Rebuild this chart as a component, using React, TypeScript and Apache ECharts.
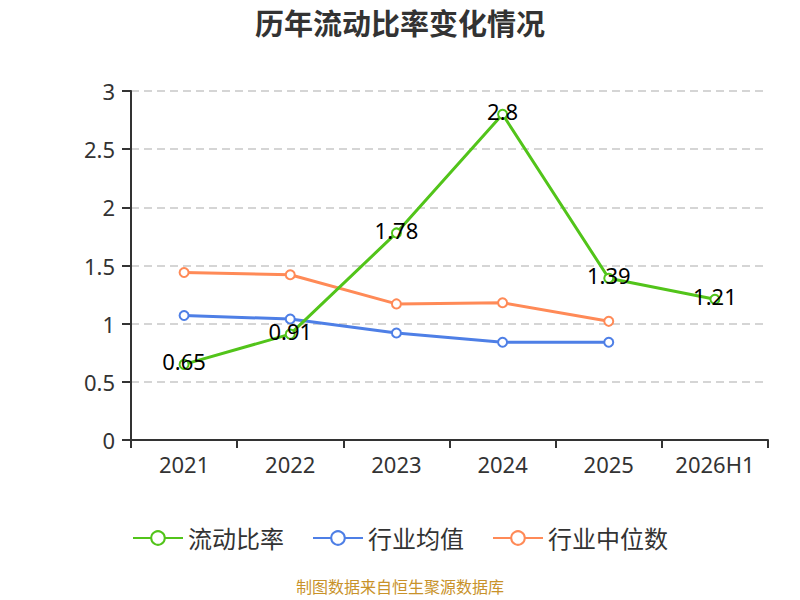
import React, { useEffect, useRef } from "react";
import * as echarts from "echarts";

const categories = ["2021", "2022", "2023", "2024", "2025", "2026H1"];
const currentRatio = [0.65, 0.91, 1.78, 2.8, 1.39, 1.21];
const industryAvg = [1.07, 1.04, 0.92, 0.84, 0.84, null];
const industryMedian = [1.44, 1.42, 1.17, 1.18, 1.02, null];
const seriesNames = ["流动比率", "行业均值", "行业中位数"];
const colors = ["#52c41a", "#4e7fe6", "#ff8a57"];
const sourceText = "制图数据来自恒生聚源数据库";

export default function App() {
  const ref = useRef<HTMLDivElement>(null);
  useEffect(() => {
    const chart = echarts.init(ref.current!, null, { renderer: "svg" });
    const font = "'Noto Sans', 'Noto Sans CJK SC', sans-serif";
    const mk = (name: string, data: any[], color: string, label: boolean) => ({
      name,
      type: "line",
      data,
      color,
      symbol: "emptyCircle",
      symbolSize: 9,
      lineStyle: { width: 3, color },
      itemStyle: { color, borderWidth: 1.5 },
      label: label
        ? { show: true, position: "inside", offset: [0, -3], color: "#000", fontSize: 22, fontFamily: font }
        : { show: false },
      z: label ? 3 : 2,
    });
    chart.setOption({
      animation: false,
      textStyle: { fontFamily: font },
      title: [
        {
          text: "历年流动比率变化情况",
          left: "center",
          top: 4,
          textStyle: { fontSize: 29, fontWeight: "bold", color: "#333", fontFamily: font },
        },
        {
          text: sourceText,
          left: "center",
          bottom: 0,
          textStyle: { fontSize: 16, fontWeight: "normal", color: "#c8922a", fontFamily: font },
        },
      ],
      legend: {
        top: 521,
        left: "center",
        itemWidth: 50,
        itemHeight: 17,
        itemGap: 28,
        textStyle: { fontSize: 24, color: "#333", fontFamily: font },
        data: seriesNames,
      },
      grid: { left: 131, right: 32, top: 91, bottom: 160 },
      xAxis: {
        type: "category",
        data: categories,
        boundaryGap: true,
        axisLine: { lineStyle: { color: "#333", width: 2 } },
        axisTick: { show: true, length: 8, lineStyle: { color: "#333", width: 2 } },
        axisLabel: { fontSize: 22, color: "#333", margin: 13, fontFamily: font },
      },
      yAxis: {
        type: "value",
        min: 0,
        max: 3,
        interval: 0.5,
        axisLine: { show: true, lineStyle: { color: "#333", width: 2 } },
        axisTick: { show: true, length: 9, lineStyle: { color: "#333", width: 2 } },
        axisLabel: { fontSize: 22, color: "#333", margin: 16, fontFamily: font },
        splitLine: { lineStyle: { type: [8, 5], color: "#c8c8c8", width: 1.5 } },
      },
      series: [
        mk(seriesNames[0], currentRatio, colors[0], true),
        mk(seriesNames[1], industryAvg, colors[1], false),
        mk(seriesNames[2], industryMedian, colors[2], false),
      ],
    });
    return () => chart.dispose();
  }, []);
  return (
    <div
      ref={ref}
      style={{ position: "absolute", left: 0, top: 0, width: 800, height: 600 }}
    />
  );
}
